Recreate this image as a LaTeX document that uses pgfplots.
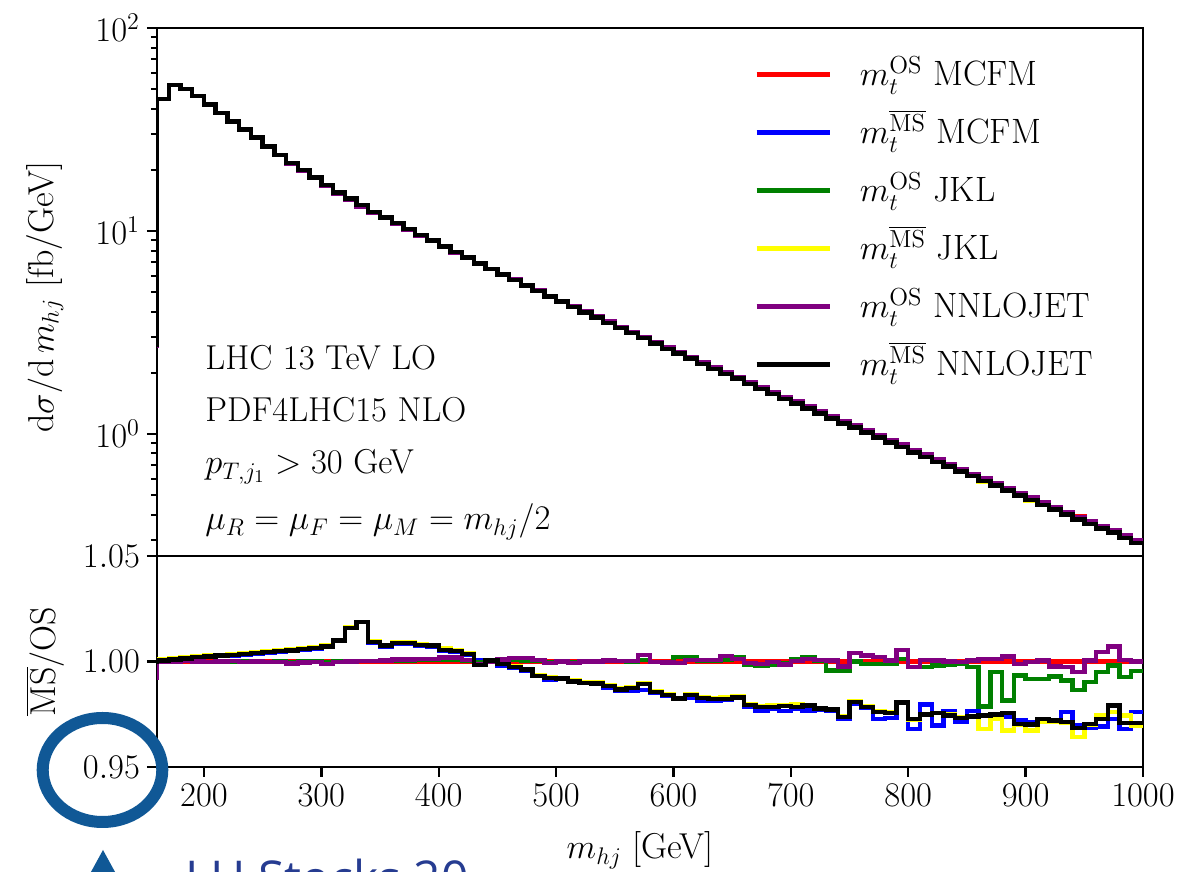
\documentclass[border=0pt]{standalone}
\usepackage{pgfplots}
\pgfplotsset{compat=1.18}
\usepackage{pgfplotstable}
\usepackage{fontspec}
\newfontfamily\notefont{Open Sans}

\definecolor{cRed}{RGB}{255,0,0}
\definecolor{cBlue}{RGB}{0,0,255}
\definecolor{cGreen}{RGB}{0,128,0}
\definecolor{cYellow}{RGB}{255,255,0}
\definecolor{cPurple}{RGB}{128,0,128}
\definecolor{markblue}{RGB}{16,88,150}
\definecolor{notenavy}{RGB}{38,60,145}

% lower bin edge, OS MCFM cross section [fb/GeV], ratios to OS MCFM
\pgfplotstableread{
lo   base  red blue   green  yellow purple black
150  2.75  1 1.0000 1.0000 1.0000 0.9925 1.0000
160  44.6  1 1.0002 1.0000 1.0009 0.9998 1.0005
170  52.4  1 1.0007 1.0000 1.0014 1.0000 1.0010
180  50.1  1 1.0012 1.0001 1.0019 1.0001 1.0015
190  46.2  1 1.0017 1.0000 1.0024 1.0000 1.0020
200  41.8  1 1.0021 0.9999 1.0028 0.9999 1.0024
210  38.0  1 1.0025 1.0000 1.0032 1.0000 1.0028
220  34.5  1 1.0029 1.0000 1.0036 1.0001 1.0032
230  31.5  1 1.0033 1.0000 1.0040 0.9999 1.0036
240  28.7  1 1.0037 1.0000 1.0044 1.0000 1.0040
250  25.9  1 1.0041 0.9999 1.0048 0.9998 1.0044
260  23.6  1 1.0046 1.0000 1.0052 0.9997 1.0049
270  21.5  1 1.0050 0.9998 1.0057 0.9990 1.0053
280  19.8  1 1.0055 1.0000 1.0062 0.9996 1.0058
290  18.2  1 1.0060 1.0000 1.0068 0.9998 1.0064
300  16.7  1 1.0068 0.9998 1.0075 0.9988 1.0072
310  15.3  1 1.0097 1.0000 1.0102 0.9998 1.0100
320  14.2  1 1.0158 1.0000 1.0162 1.0000 1.0160
330  13.2  1 1.0188 1.0001 1.0186 1.0002 1.0186
340  12.3  1 1.0088 1.0001 1.0094 1.0003 1.0092
350  11.55 1 1.0072 1.0002 1.0078 1.0005 1.0075
360  10.82 1 1.0085 1.0004 1.0090 1.0010 1.0088
370  10.13 1 1.0084 1.0005 1.0090 1.0010 1.0087
380  9.49  1 1.0075 1.0006 1.0080 1.0013 1.0078
390  8.90  1 1.0072 1.0006 1.0078 1.0013 1.0075
400  8.35  1 1.0052 1.0008 1.0062 1.0018 1.0055
410  7.83  1 1.0047 1.0008 1.0052 1.0018 1.0050
420  7.36  1 1.0033 1.0004 1.0038 1.0007 1.0036
430  6.91  1 1.0005 0.9998 0.9986 0.9985 0.9984
440  6.49  1 1.0002 1.0000 1.0007 1.0000 1.0005
450  6.11  1 0.9980 1.0004 0.9990 1.0010 0.9988
460  5.74  1 0.9970 1.0006 0.9977 1.0017 0.9973
470  5.41  1 0.9955 1.0005 0.9965 1.0016 0.9963
480  5.09  1 0.9930 1.0003 0.9936 1.0008 0.9932
490  4.79  1 0.9912 0.9998 0.9926 0.9992 0.9922
500  4.52  1 0.9917 1.0000 0.9923 1.0000 0.9920
510  4.26  1 0.9902 0.9997 0.9910 0.9992 0.9905
520  4.01  1 0.9900 1.0000 0.9900 1.0000 0.9898
530  3.78  1 0.9893 1.0000 0.9902 1.0000 0.9896
540  3.57  1 0.9874 1.0002 0.9887 1.0005 0.9884
550  3.37  1 0.9862 1.0001 0.9872 1.0003 0.9867
560  3.18  1 0.9862 1.0000 0.9876 1.0002 0.9874
570  3.00  1 0.9866 1.0008 0.9898 1.0030 0.9894
580  2.83  1 0.9850 0.9999 0.9858 0.9997 0.9855
590  2.67  1 0.9837 0.9998 0.9843 0.9996 0.9840
600  2.53  1 0.9821 1.0020 0.9827 0.9992 0.9824
610  2.39  1 0.9826 1.0018 0.9846 1.0008 0.9842
620  2.25  1 0.9815 1.0005 0.9832 1.0006 0.9828
630  2.13  1 0.9812 1.0002 0.9826 1.0007 0.9823
640  2.01  1 0.9818 1.0010 0.9830 1.0027 0.9823
650  1.905 1 0.9826 1.0022 0.9836 1.0013 0.9830
660  1.80  1 0.9786 0.9982 0.9796 0.9994 0.9793
670  1.70  1 0.9765 0.9980 0.9786 0.9989 0.9783
680  1.61  1 0.9778 0.9982 0.9795 0.9997 0.9784
690  1.52  1 0.9765 0.9990 0.9792 0.9986 0.9789
700  1.44  1 0.9778 1.0013 0.9798 1.0002 0.9784
710  1.36  1 0.9767 1.0018 0.9795 1.0013 0.9792
720  1.29  1 0.9770 1.0005 0.9780 1.0008 0.9777
730  1.22  1 0.9765 0.9957 0.9775 1.0005 0.9772
740  1.156 1 0.9730 0.9957 0.9740 0.9976 0.9736
750  1.094 1 0.9800 1.0000 0.9810 1.0040 0.9807
760  1.036 1 0.9780 0.9989 0.9788 1.0028 0.9785
770  0.981 1 0.9728 0.9989 0.9765 1.0020 0.9760
780  0.929 1 0.9733 0.9989 0.9758 1.0005 0.9755
790  0.880 1 0.9809 1.0013 0.9805 1.0055 0.9805
800  0.833 1 0.9681 0.9973 0.9725 0.9973 0.9728
810  0.789 1 0.9796 0.9973 0.9752 1.0008 0.9749
820  0.747 1 0.9697 0.9981 0.9755 1.0005 0.9755
830  0.708 1 0.9765 0.9986 0.9748 1.0000 0.9744
840  0.671 1 0.9712 0.9989 0.9738 0.9997 0.9733
850  0.635 1 0.9765 0.9973 0.9740 1.0005 0.9739
860  0.602 1 0.9744 0.9787 0.9681 1.0013 0.9744
870  0.570 1 0.9744 0.9950 0.9728 1.0013 0.9749
880  0.540 1 0.9736 0.9815 0.9673 1.0024 0.9755
890  0.512 1 0.9720 0.9934 0.9701 0.9989 0.9705
900  0.485 1 0.9712 0.9918 0.9673 0.9997 0.9701
910  0.459 1 0.9712 0.9918 0.9712 1.0005 0.9728
920  0.435 1 0.9712 0.9929 0.9712 0.9976 0.9720
930  0.413 1 0.9760 0.9910 0.9708 0.9973 0.9712
940  0.391 1 0.9697 0.9866 0.9641 0.9950 0.9686
950  0.371 1 0.9686 0.9902 0.9701 1.0005 0.9705
960  0.351 1 0.9692 0.9950 0.9744 1.0044 0.9728
970  0.333 1 0.9728 0.9981 0.9760 1.0071 0.9791
980  0.316 1 0.9681 0.9926 0.9744 1.0008 0.9708
990  0.299 1 0.9760 0.9954 0.9697 1.0000 0.9708
1000 0.299 1 0.9760 0.9954 0.9697 1.0000 0.9708
}\histdata

\pgfplotsset{
  panel/.style={
    scale only axis, width=493pt,
    xmin=160, xmax=1000,
    axis line style={line width=1.3pt},
    tick align=outside,
    major tick style={line width=1.2pt, black},
    minor tick style={line width=1.0pt, black},
    major tick length=5pt, minor tick length=3pt,
    font=\fontsize{17.3}{20}\selectfont,
    label style={font=\fontsize{18}{21}\selectfont},
    scaled ticks=false,
    every axis plot/.append style={line width=2.2pt, const plot mark left},
  },
}

\begin{document}
\begin{tikzpicture}[x=1pt,y=1pt]

% upper panel: differential cross section
\begin{axis}[panel, at={(78.5pt,158pt)}, anchor=south west, height=264pt,
  ymode=log, ymin=0.25, ymax=100,
  xtick=\empty, ytick pos=left,
  ytick={1,10,100},
  minor ytick={0.3,0.4,0.5,0.6,0.7,0.8,0.9,2,3,4,5,6,7,8,9,20,30,40,50,60,70,80,90},
  ylabel={$\mathrm{d}\sigma/\mathrm{d}\,m_{hj}$ [fb/GeV]},
  ylabel style={at={(axis description cs:-0.1136,0.49)}, anchor=center},
  legend style={draw=none, fill=none, at={(axis description cs:0.5994,0.9598)},
    anchor=north west, legend cell align=left, row sep=8pt,
    font=\fontsize{17.6}{20}\selectfont,
    nodes={inner sep=0pt, text height=16pt, text depth=5pt}},
  legend image code/.code={%
    \draw[#1, line width=2.2pt] (0pt,0pt) -- (36.5pt,0pt);
    \path (50.5pt,0pt);},
]
\addplot[cRed]    table[x=lo, y expr=\thisrow{base}*\thisrow{red}]    {\histdata};
\addplot[cBlue]   table[x=lo, y expr=\thisrow{base}*\thisrow{blue}]   {\histdata};
\addplot[cGreen]  table[x=lo, y expr=\thisrow{base}*\thisrow{green}]  {\histdata};
\addplot[cYellow] table[x=lo, y expr=\thisrow{base}*\thisrow{yellow}] {\histdata};
\addplot[cPurple] table[x=lo, y expr=\thisrow{base}*\thisrow{purple}] {\histdata};
\addplot[black]   table[x=lo, y expr=\thisrow{base}*\thisrow{black}]  {\histdata};
\legend{$m_t^{\mathrm{OS}}$ MCFM, $m_t^{\overline{\mathrm{MS}}}$ MCFM,
        $m_t^{\mathrm{OS}}$ JKL, $m_t^{\overline{\mathrm{MS}}}$ JKL,
        $m_t^{\mathrm{OS}}$ NNLOJET, $m_t^{\overline{\mathrm{MS}}}$ NNLOJET}
\end{axis}

% process description
\begin{scope}[every node/.style={anchor=base west, inner sep=0pt, font=\fontsize{17.3}{20}\selectfont}]
\node at (102.5,251) {LHC 13 TeV LO};
\node at (102.5,225) {PDF4LHC15 NLO};
\node at (102.5,199) {$p_{T,j_1} > 30$ GeV};
\node at (102.5,171) {$\mu_R = \mu_F = \mu_M = m_{hj}/2$};
\end{scope}

% lower panel: ratio to the on-shell MCFM result
\begin{axis}[panel, at={(78.5pt,52.5pt)}, anchor=south west, height=105.5pt,
  ymin=0.95, ymax=1.05,
  ytick={0.95,1,1.05}, ytick pos=left, xtick pos=bottom,
  xtick={200,300,...,1000},
  yticklabel style={/pgf/number format/.cd, fixed, fixed zerofill, precision=2},
  xticklabel style={/pgf/number format/1000 sep={}},
  xlabel={$m_{hj}$ [GeV]},
  xlabel style={at={(axis description cs:0.49,-0.436)}, anchor=base},
  ylabel={$\overline{\mathrm{MS}}/\mathrm{OS}$},
  ylabel style={at={(axis description cs:-0.1136,0.5)}, anchor=center},
]
\addplot[cRed]    table[x=lo, y=red]    {\histdata};
\addplot[cBlue]   table[x=lo, y=blue]   {\histdata};
\addplot[cGreen]  table[x=lo, y=green]  {\histdata};
\addplot[cYellow] table[x=lo, y=yellow] {\histdata};
\addplot[cPurple] table[x=lo, y=purple] {\histdata};
\addplot[black]   table[x=lo, y=black]  {\histdata};
\end{axis}

% highlight around the lowest ratio tick
\draw[markblue, line width=6pt] (51.25,51) ellipse [x radius=29.9, y radius=26];
\fill[markblue] (51.5,11) -- (40,-10) -- (63,-10) -- cycle;
\node[anchor=base west, inner sep=0pt, text=notenavy,
      font=\notefont\fontsize{24}{28}\selectfont] at (92.5,-12) {LH Stocks 20};

\pgfresetboundingbox
\path[use as bounding box] (0,0) rectangle (592,436);
\end{tikzpicture}
\end{document}
